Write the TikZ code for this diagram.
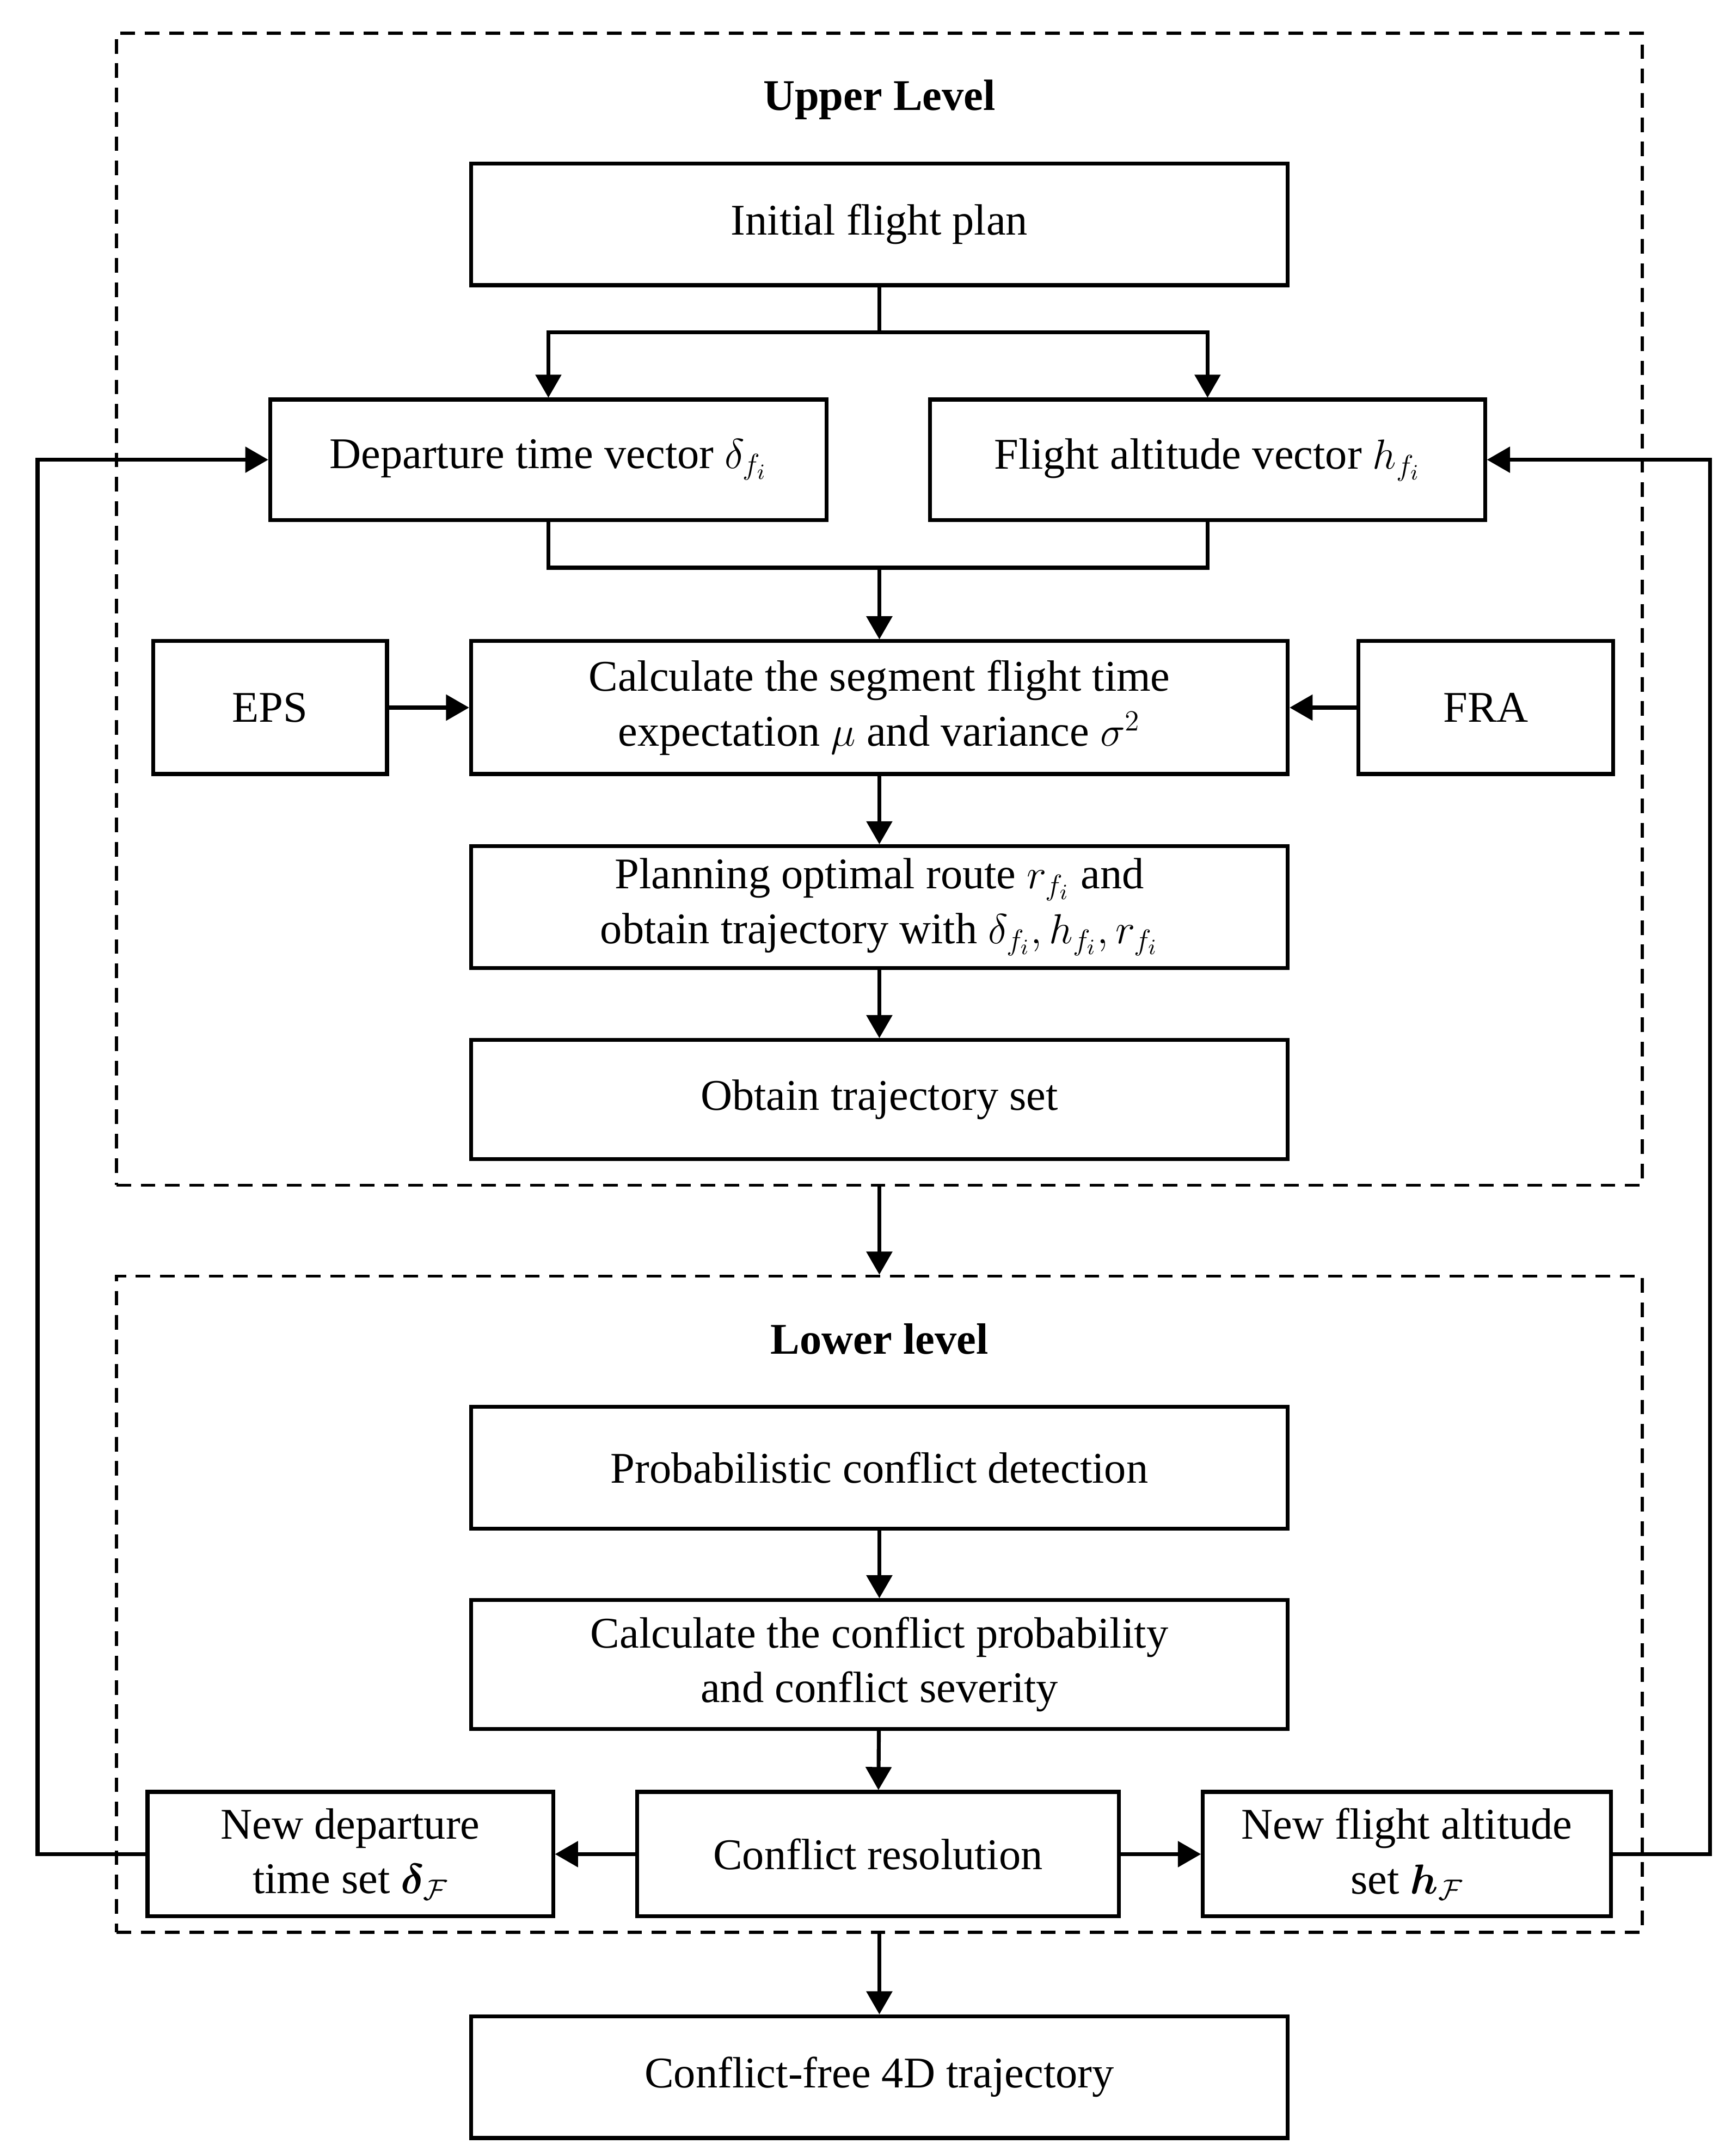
\documentclass[tikz,border=0pt]{standalone}
\usepackage{fontspec}
\setmainfont{Liberation Serif}
\usepackage{amsmath,bm}
\usetikzlibrary{arrows}

\tikzset{
  box/.style={draw, line width=1.6pt, align=center, inner sep=2pt,
    font=\fontsize{18}{22.5}\selectfont},
  level/.style={draw, dash pattern=on 6pt off 4pt, line width=1.3pt},
  title/.style={font=\fontsize{18}{20}\selectfont\bfseries}
}

\begin{document}
\begin{tikzpicture}[x=0.02cm, y=-0.02cm, >=triangle 60, line width=1.6pt]

\useasboundingbox (0,0) rectangle (1250,1557);

				% dashed levels
				\node [level, minimum width=22.04cm, minimum height=16.64cm] (upper) at (635,440) {};
				\node [level, minimum width=22.04cm, minimum height=9.48cm] (lower) at (635,1158.5) {};
				\node [title] (uptitle) at (635,72) {Upper Level};
				\node [title] (lowtitle) at (635,967) {Lower level};

				% upper level blocks
				\node [box, minimum width=11.8cm, minimum height=1.76cm] (init) at (635,162) {Initial flight plan};
				\node [box, minimum width=8.04cm, minimum height=1.74cm] (dep) at (396,332) {Departure time vector $\delta_{f_i}$};
				\node [box, minimum width=8.02cm, minimum height=1.74cm] (alt) at (872,332) {Flight altitude vector $h_{f_i}$};
				\node [box, minimum width=11.8cm, minimum height=1.92cm] (calc) at (635,511) {Calculate the segment flight time\\expectation $\mu$ and variance $\sigma^2$};
				\node [box, minimum width=3.38cm, minimum height=1.92cm] (eps) at (195,511) {EPS};
				\node [box, minimum width=3.68cm, minimum height=1.92cm] (fra) at (1073,511) {FRA};
				\node [box, minimum width=11.8cm, minimum height=1.76cm] (plan) at (635,655) {Planning optimal route $r_{f_i}$ and\\obtain trajectory with $\delta_{f_i}, h_{f_i}, r_{f_i}$};
				\node [box, minimum width=11.8cm, minimum height=1.72cm] (traj) at (635,794) {Obtain trajectory set};

				% lower level blocks
				\node [box, minimum width=11.8cm, minimum height=1.76cm] (prob) at (635,1060) {Probabilistic conflict detection};
				\node [box, minimum width=11.8cm, minimum height=1.86cm] (cprob) at (635,1202) {Calculate the conflict probability\\and conflict severity};
				\node [box, minimum width=6.96cm, minimum height=1.8cm] (res) at (634,1339) {Conflict resolution};
				\node [box, minimum width=5.86cm, minimum height=1.8cm] (newdep) at (253,1339) {New departure\\time set $\bm{\delta}_{\mathcal{F}}$};
				\node [box, minimum width=5.9cm, minimum height=1.8cm] (newalt) at (1016,1339) {New flight altitude\\set $\bm{h}_{\mathcal{F}}$};
				\node [box, minimum width=11.8cm, minimum height=1.76cm] (free) at (635,1500) {Conflict-free 4D trajectory};

				% connectors
				\coordinate (split) at (635,240);
				\coordinate (merge) at (635,410);
				\draw (init.south) -- (split);
				\draw [->] (split) -| (dep.north);
				\draw [->] (split) -| (alt.north);
				\draw (dep.south) |- (merge) -| (alt.south);
				\draw [->] (merge) -- (calc.north);
				\draw [->] (eps) -- (calc);
				\draw [->] (fra) -- (calc);
				\draw [->] (calc) -- (plan);
				\draw [->] (plan) -- (traj);
				\draw [->] (upper.south) -- (lower.north);
				\draw [->] (prob) -- (cprob);
				\draw [->] (cprob) -- (res);
				\draw [->] (res) -- (newdep);
				\draw [->] (res) -- (newalt);
				\draw [->] (lower.south) -- (free.north);
				%feedback loops
				\draw [->] (newdep.west) -- ++(-78,0) |- (dep.west);
				\draw [->] (newalt.east) -- ++(70,0) |- (alt.east);

\end{tikzpicture}
\end{document}
